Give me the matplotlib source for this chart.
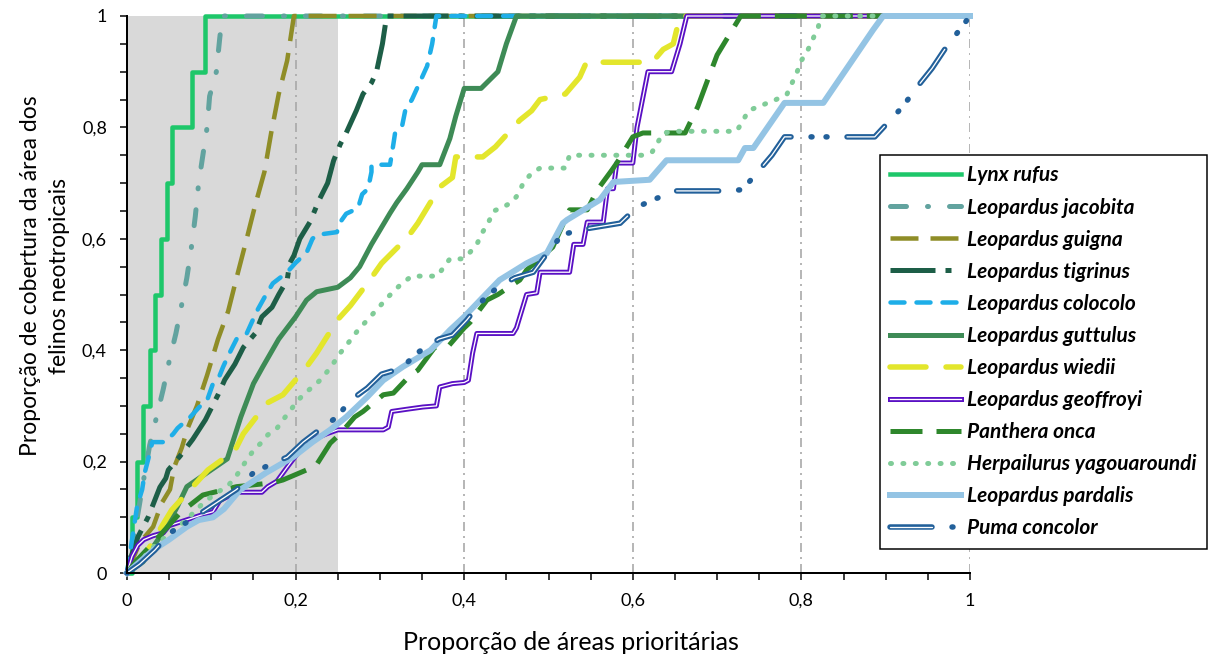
import matplotlib.pyplot as plt
from matplotlib.ticker import MultipleLocator, FuncFormatter

plt.rcParams['font.family'] = ['Lato', 'DejaVu Sans']
plt.rcParams['lines.scale_dashes'] = False

PX = 72 / 100  # points per pixel at dpi 100


def px(*vals):
    return [v * PX for v in vals]


# ---- data ----
labels = ["Lynx rufus", "Leopardus jacobita", "Leopardus guigna", "Leopardus tigrinus",
          "Leopardus colocolo", "Leopardus guttulus", "Leopardus wiedii",
          "Leopardus geoffroyi", "Panthera onca", "Herpailurus yagouaroundi",
          "Leopardus pardalis", "Puma concolor"]

lynx_x = [0, 0.006, 0.012, 0.019, 0.027, 0.033, 0.040, 0.047, 0.053, 0.077, 0.092, 1.0]
lynx_y = [0, 0.1, 0.2, 0.3, 0.4, 0.5, 0.6, 0.7, 0.8, 0.9, 1.0, 1.0]

jacobita_x = [0, 0.01, 0.02, 0.027, 0.035, 0.043, 0.05, 0.058, 0.066, 0.071, 0.076, 0.081,
              0.085, 0.090, 0.095, 0.098, 0.106, 0.110, 0.113, 1.0]
jacobita_y = [0, 0.08, 0.17, 0.23, 0.28, 0.33, 0.38, 0.43, 0.49, 0.53, 0.58, 0.64,
              0.70, 0.75, 0.80, 0.856, 0.90, 0.96, 1.0, 1.0]

guigna_x = [0, 0.015, 0.031, 0.041, 0.051, 0.056, 0.065, 0.072, 0.083, 0.095, 0.108, 0.12,
            0.13, 0.142, 0.152, 0.163, 0.171, 0.18, 0.19, 0.198, 1.0]
guigna_y = [0, 0.054, 0.083, 0.125, 0.15, 0.19, 0.225, 0.26, 0.30, 0.355, 0.42, 0.47,
            0.53, 0.60, 0.66, 0.72, 0.79, 0.86, 0.92, 1.0, 1.0]

tigrinus_x = [0, 0.005, 0.013, 0.025, 0.039, 0.046, 0.049, 0.063, 0.078, 0.093, 0.108, 0.116,
              0.128, 0.138, 0.152, 0.16, 0.172, 0.18, 0.19, 0.193, 0.198, 0.205, 0.211, 0.217,
              0.228, 0.238, 0.245, 0.253, 0.26, 0.272, 0.28, 0.29, 0.296, 0.303, 0.308, 1.0]
tigrinus_y = [0, 0.03, 0.065, 0.10, 0.154, 0.17, 0.185, 0.21, 0.24, 0.275, 0.32, 0.347,
              0.375, 0.405, 0.43, 0.46, 0.477, 0.50, 0.526, 0.556, 0.57, 0.60, 0.615, 0.63,
              0.67, 0.70, 0.74, 0.77, 0.79, 0.83, 0.86, 0.88, 0.90, 0.95, 1.0, 1.0]

colocolo_x = [0, 0.004, 0.009, 0.012, 0.018, 0.021, 0.027, 0.03, 0.045, 0.055, 0.06, 0.075,
              0.087, 0.095, 0.102, 0.11, 0.114, 0.12, 0.13, 0.142, 0.154, 0.165, 0.173, 0.19,
              0.2, 0.213, 0.22, 0.225, 0.249, 0.253, 0.26, 0.274, 0.279, 0.286, 0.29, 0.29,
              0.312, 0.316, 0.318, 0.326, 0.33, 0.338, 0.344, 0.35, 0.356, 0.362, 0.367, 1.0]
colocolo_y = [0, 0.04, 0.09, 0.12, 0.15, 0.18, 0.215, 0.235, 0.235, 0.25, 0.26, 0.28,
              0.30, 0.31, 0.34, 0.355, 0.37, 0.39, 0.42, 0.43, 0.47, 0.50, 0.52, 0.54,
              0.557, 0.575, 0.60, 0.607, 0.612, 0.63, 0.645, 0.655, 0.68, 0.69, 0.72, 0.733,
              0.733, 0.77, 0.79, 0.80, 0.83, 0.85, 0.87, 0.89, 0.91, 0.95, 1.0, 1.0]

guttulus_x = [0, 0.019, 0.047, 0.06, 0.071, 0.095, 0.119, 0.135, 0.15, 0.161, 0.18, 0.2,
              0.213, 0.225, 0.25, 0.265, 0.276, 0.29, 0.312, 0.32, 0.332, 0.345, 0.35, 0.371,
              0.383, 0.39, 0.40, 0.42, 0.44, 0.45, 0.462, 1.0]
guttulus_y = [0, 0.02, 0.083, 0.12, 0.155, 0.18, 0.205, 0.28, 0.34, 0.37, 0.42, 0.46,
              0.49, 0.505, 0.513, 0.53, 0.55, 0.59, 0.646, 0.665, 0.69, 0.72, 0.733, 0.733,
              0.78, 0.82, 0.87, 0.87, 0.90, 0.95, 1.0, 1.0]

wiedii_x = [0, 0.015, 0.027, 0.041, 0.053, 0.081, 0.096, 0.128, 0.138, 0.166, 0.185, 0.213,
            0.225, 0.25, 0.265, 0.288, 0.302, 0.333, 0.345, 0.371, 0.386, 0.39, 0.422, 0.437,
            0.466, 0.48, 0.49, 0.52, 0.537, 0.545, 0.623, 0.636, 0.648, 0.656, 1.0]
wiedii_y = [0, 0.02, 0.047, 0.083, 0.113, 0.16, 0.185, 0.22, 0.25, 0.305, 0.32, 0.37,
            0.395, 0.455, 0.48, 0.526, 0.556, 0.603, 0.628, 0.693, 0.71, 0.747, 0.747, 0.765,
            0.813, 0.83, 0.85, 0.86, 0.89, 0.917, 0.917, 0.94, 0.95, 1.0, 1.0]

geoffroyi_x = [0, 0.002, 0.006, 0.013, 0.02, 0.031, 0.043, 0.05, 0.07, 0.09, 0.102, 0.11,
               0.13, 0.16, 0.167, 0.178, 0.19, 0.2, 0.213, 0.237, 0.25, 0.304, 0.31, 0.314,
               0.332, 0.351, 0.367, 0.371, 0.386, 0.40, 0.405, 0.41, 0.415, 0.458, 0.462,
               0.474, 0.486, 0.49, 0.525, 0.53, 0.541, 0.546, 0.565, 0.57, 0.577, 0.581,
               0.60, 0.605, 0.618, 0.646, 0.656, 0.664, 1.0]
geoffroyi_y = [0, 0.01, 0.03, 0.05, 0.06, 0.067, 0.072, 0.085, 0.095, 0.105, 0.11, 0.13,
               0.145, 0.145, 0.155, 0.165, 0.19, 0.21, 0.235, 0.25, 0.257, 0.257, 0.262, 0.29,
               0.294, 0.298, 0.30, 0.334, 0.34, 0.342, 0.346, 0.395, 0.43, 0.43, 0.44,
               0.50, 0.503, 0.54, 0.54, 0.59, 0.59, 0.63, 0.63, 0.69, 0.69, 0.736,
               0.736, 0.80, 0.90, 0.90, 0.95, 1.0, 1.0]

onca_x = [0, 0.01, 0.031, 0.063, 0.09, 0.13, 0.173, 0.185, 0.213, 0.223, 0.241, 0.253,
          0.27, 0.28, 0.304, 0.316, 0.336, 0.345, 0.365, 0.38, 0.40, 0.407, 0.427, 0.44,
          0.466, 0.474, 0.505, 0.525, 0.546, 0.558, 0.575, 0.581, 0.60, 0.612, 0.662, 0.677,
          0.69, 0.70, 0.716, 0.728, 1.0]
onca_y = [0, 0.02, 0.054, 0.108, 0.14, 0.155, 0.162, 0.167, 0.185, 0.19, 0.233, 0.25,
          0.28, 0.29, 0.32, 0.323, 0.355, 0.364, 0.405, 0.405, 0.44, 0.45, 0.49, 0.50,
          0.526, 0.544, 0.585, 0.652, 0.652, 0.688, 0.723, 0.736, 0.783, 0.79, 0.79, 0.837,
          0.89, 0.93, 0.97, 1.0, 1.0]

yago_x = [0, 0.015, 0.03, 0.05, 0.07, 0.09, 0.107, 0.119, 0.13, 0.142, 0.15, 0.16, 0.167,
          0.178, 0.185, 0.193, 0.2, 0.209, 0.22, 0.229, 0.241, 0.253, 0.265, 0.274, 0.285,
          0.31, 0.318, 0.326, 0.338, 0.368, 0.383, 0.397, 0.407, 0.415, 0.421, 0.428, 0.435,
          0.445, 0.457, 0.464, 0.47, 0.48, 0.49, 0.52, 0.525, 0.611, 0.623, 0.63, 0.636,
          0.65, 0.723, 0.73, 0.737, 0.77, 0.783, 0.789, 0.795, 0.80, 0.808, 0.814, 0.82,
          0.823, 1.0]
yago_y = [0, 0.02, 0.045, 0.07, 0.095, 0.125, 0.145, 0.155, 0.175, 0.203, 0.22, 0.235, 0.248,
          0.26, 0.275, 0.29, 0.305, 0.32, 0.334, 0.346, 0.368, 0.395, 0.418, 0.436, 0.454,
          0.496, 0.508, 0.52, 0.533, 0.533, 0.564, 0.564, 0.576, 0.59, 0.61, 0.627, 0.65,
          0.656, 0.666, 0.68, 0.70, 0.718, 0.727, 0.727, 0.75, 0.75, 0.756, 0.774, 0.79,
          0.793, 0.793, 0.81, 0.83, 0.85, 0.86, 0.88, 0.90, 0.92, 0.94, 0.96, 0.98,
          1.0, 1.0]

pardalis_x = [0, 0.015, 0.031, 0.05, 0.071, 0.085, 0.102, 0.115, 0.134, 0.165, 0.197, 0.22,
              0.241, 0.26, 0.285, 0.304, 0.327, 0.36, 0.383, 0.40, 0.419, 0.442, 0.474, 0.498,
              0.517, 0.522, 0.561, 0.577, 0.62, 0.64, 0.725, 0.733, 0.743, 0.78, 0.826, 0.885,
              0.897, 1.0]
pardalis_y = [0, 0.02, 0.041, 0.06, 0.083, 0.095, 0.10, 0.115, 0.149, 0.18, 0.208, 0.235,
              0.257, 0.28, 0.316, 0.346, 0.37, 0.40, 0.436, 0.46, 0.49, 0.526, 0.556, 0.574,
              0.628, 0.634, 0.67, 0.702, 0.706, 0.741, 0.741, 0.763, 0.763, 0.844, 0.844, 0.975,
              1.0, 1.0]

puma_x = [0, 0.015, 0.033, 0.051, 0.08, 0.11, 0.13, 0.15, 0.17, 0.19, 0.209, 0.229, 0.249,
          0.265, 0.285, 0.302, 0.326, 0.344, 0.37, 0.386, 0.403, 0.421, 0.439, 0.46, 0.482,
          0.498, 0.516, 0.537, 0.585, 0.605, 0.629, 0.65, 0.703, 0.73, 0.747, 0.765, 0.78,
          0.887, 0.92, 0.937, 0.955, 0.97, 1.0]
puma_y = [0, 0.016, 0.041, 0.072, 0.10, 0.13, 0.15, 0.18, 0.195, 0.208, 0.235, 0.258, 0.28,
          0.31, 0.332, 0.357, 0.368, 0.395, 0.42, 0.427, 0.454, 0.488, 0.512, 0.53, 0.54,
          0.573, 0.607, 0.616, 0.628, 0.657, 0.673, 0.686, 0.686, 0.688, 0.718, 0.75, 0.783,
          0.783, 0.837, 0.872, 0.906, 0.94, 1.0]

# ---- figure ----
fig = plt.figure(figsize=(12.11, 6.59), dpi=100)
ax = fig.add_axes([127 / 1211, 1 - 573 / 659, 843 / 1211, 557 / 659])

ax.axvspan(0, 0.25, color='#d9d9d9', lw=0, zorder=0)
for xv in [0.2, 0.4, 0.6, 0.8, 1.0]:
    ax.axvline(xv, color='#a6a6a6', lw=1.6 * PX, dashes=px(9, 5, 2, 5), zorder=0.5)

handles = []

h, = ax.step(lynx_x, lynx_y, where='post', color='#1ec76a', lw=4.5 * PX, clip_on=False)
handles.append(h)

h, = ax.plot(jacobita_x, jacobita_y, color='#62a39f', lw=5 * PX, dashes=px(16, 21, 1, 21),
             dash_capstyle='round', clip_on=False)
handles.append(h)

h, = ax.plot(guigna_x, guigna_y, color='#8f8d27', lw=4.5 * PX, dashes=px(28, 12),
             dash_capstyle='butt', clip_on=False)
handles.append(h)

h, = ax.plot(tigrinus_x, tigrinus_y, color='#1d5e47', lw=5 * PX, dashes=px(45, 10, 6, 10),
             dash_capstyle='butt', clip_on=False)
handles.append(h)

h, = ax.plot(colocolo_x, colocolo_y, color='#1eaee8', lw=4.5 * PX, dashes=px(14, 12),
             dash_capstyle='round', clip_on=False)
handles.append(h)

h, = ax.plot(guttulus_x, guttulus_y, color='#3e8b56', lw=5 * PX, clip_on=False)
handles.append(h)

h, = ax.plot(wiedii_x, wiedii_y, color='#e3e62c', lw=5.5 * PX, dashes=px(36, 20),
             dash_capstyle='round', clip_on=False)
handles.append(h)

h1, = ax.plot(geoffroyi_x, geoffroyi_y, color='#5a10c4', lw=5 * PX, clip_on=False)
h2, = ax.plot(geoffroyi_x, geoffroyi_y, color='white', lw=1.3 * PX, clip_on=False)
handles.append((h1, h2))

h, = ax.plot(onca_x, onca_y, color='#2e872c', lw=5 * PX, dashes=px(32, 14),
             dash_capstyle='butt', clip_on=False)
handles.append(h)

h, = ax.plot(yago_x, yago_y, color='#80cc98', lw=5 * PX, dashes=px(1, 11.4),
             dash_capstyle='round', clip_on=False)
handles.append(h)

h, = ax.plot(pardalis_x, pardalis_y, color='#94c4e4', lw=6 * PX, clip_on=False)
handles.append(h)

h1, = ax.plot(puma_x, puma_y, color='#22609a', lw=5.5 * PX, dashes=px(42, 20, 1, 14, 1, 20),
              dash_capstyle='round', clip_on=False)
h2, = ax.plot(puma_x, puma_y, color='white', lw=1.3 * PX, dashes=px(42, 56),
              dash_capstyle='round', clip_on=False)
handles.append((h1, h2))

# ---- axes styling ----
ax.set_xlim(0, 1)
ax.set_ylim(0, 1)
for s in ['top', 'right']:
    ax.spines[s].set_visible(False)
for s in ['left', 'bottom']:
    ax.spines[s].set_linewidth(2 * PX)
    ax.spines[s].set_zorder(6)

fmt = FuncFormatter(lambda v, _: ('%g' % round(v, 2)).replace('.', ','))
ax.xaxis.set_major_locator(MultipleLocator(0.2))
ax.xaxis.set_minor_locator(MultipleLocator(0.05))
ax.yaxis.set_major_locator(MultipleLocator(0.2))
ax.yaxis.set_minor_locator(MultipleLocator(0.05))
ax.xaxis.set_major_formatter(fmt)
ax.yaxis.set_major_formatter(fmt)
ax.tick_params(which='both', direction='out', length=7 * PX, width=1.5 * PX, color='black')
ax.tick_params(axis='both', which='major', pad=13 * PX, labelsize=13)

fig.text(571 / 1211, 1 - 642 / 659, 'Proporção de áreas prioritárias',
         ha='center', va='center', fontsize=18)
fig.text(45 / 1211, 1 - 276 / 659, 'Proporção de cobertura da área dos\nfelinos neotropicais',
         ha='center', va='center', rotation=90, multialignment='center',
         fontsize=16.5, linespacing=1.5)

leg = ax.legend(handles, labels, loc='upper left',
                bbox_to_anchor=(880 / 1211, 1 - 155 / 659), bbox_transform=fig.transFigure,
                prop={'family': ['Lato', 'DejaVu Sans'], 'weight': 'bold', 'style': 'italic',
                      'size': 15},
                handlelength=3.4, handletextpad=0.28, labelspacing=0.58, borderpad=0.5,
                borderaxespad=0, frameon=True, fancybox=False, framealpha=1)
leg.get_frame().set_edgecolor('black')
leg.get_frame().set_linewidth(1.5 * PX)
leg.set_zorder(10)

fig.savefig('out.png', dpi=100)
